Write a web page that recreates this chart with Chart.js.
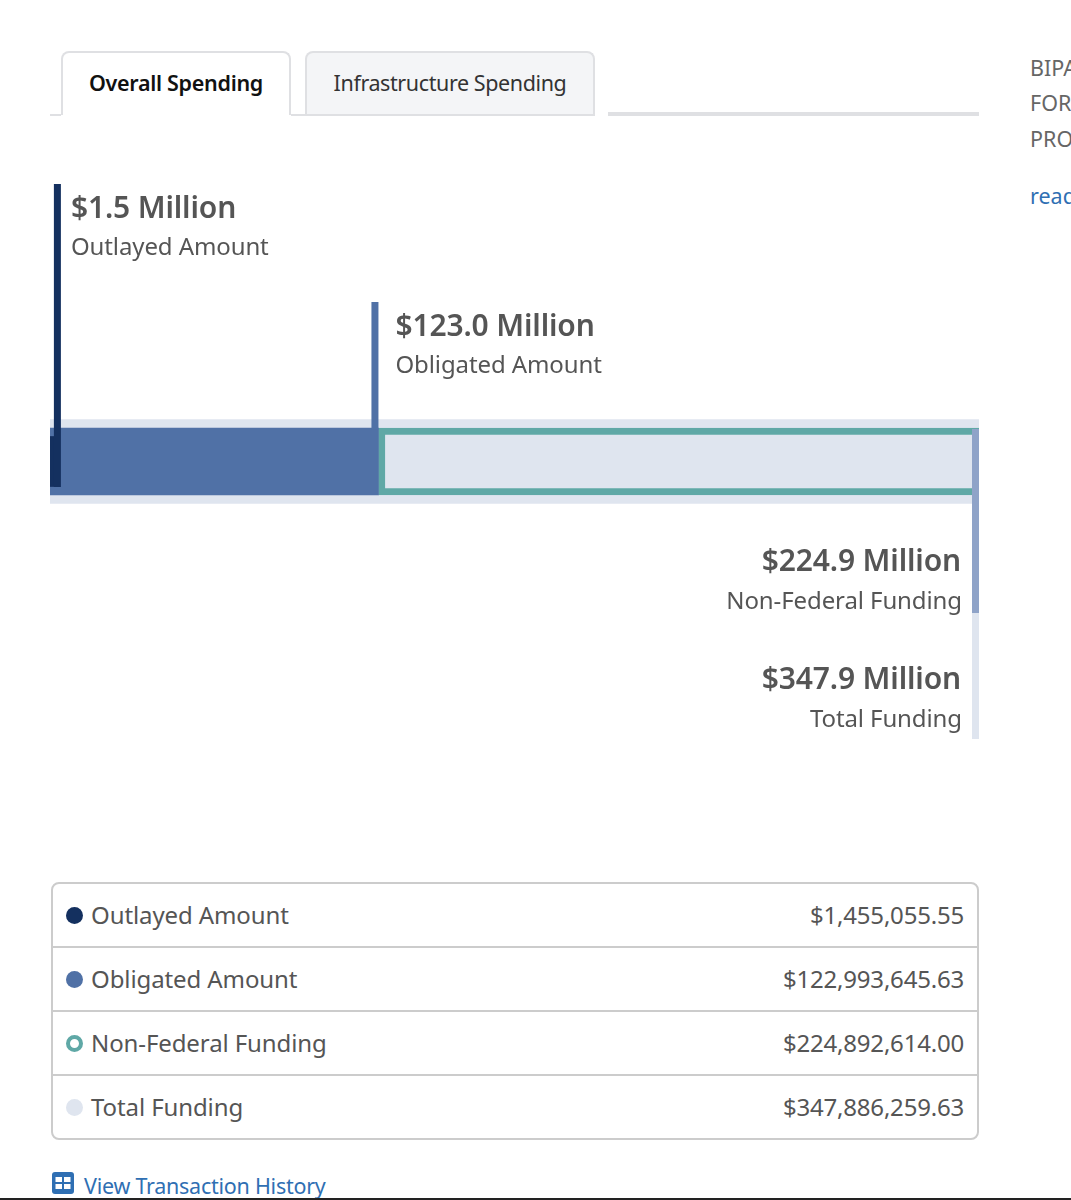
<!DOCTYPE html>
<html>
<head>
<meta charset="utf-8">
<title>Overall Spending</title>
<script src="https://cdn.jsdelivr.net/npm/chart.js@4"></script>
<style>
  html, body { margin: 0; padding: 0; background: #fff; }
  body { width: 1071px; height: 1200px; overflow: hidden; position: relative; font-family: "Noto Sans", sans-serif; color: #555; }
  .abs { position: absolute; white-space: nowrap; }
  .tab { position: absolute; top: 51px; height: 64px; box-sizing: border-box; border: 2px solid #dfe0e3; border-bottom: 0; border-radius: 8px 8px 0 0; text-align: center; line-height: 60px; font-size: 21.5px; }
  #tab1 { left: 61px; width: 230px; background: #fff; color: #111; font-weight: 600; letter-spacing: -0.3px; }
  #tab2 { left: 305px; width: 290px; background: #f4f5f7; color: #333; letter-spacing: -0.4px; }
  .rule { position: absolute; background: #dfe0e3; }
  #chartBox { position: absolute; left: 50px; top: 170px; width: 929px; height: 583px; }
  #legendTable { position: absolute; left: 51px; top: 882px; width: 928px; box-sizing: border-box; border: 2px solid #ccc; border-radius: 8px; }
  .row { height: 64px; box-sizing: border-box; border-bottom: 2px solid #ccc; position: relative; font-size: 24px; line-height: 62px; color: #555; }
  .row:last-child { border-bottom: 0; height: 62px; }
  .dot { position: absolute; left: 13px; top: 23px; width: 17px; height: 17px; border-radius: 50%; box-sizing: border-box; }
  .name { position: absolute; left: 38px; letter-spacing: -0.1px; }
  .amt { position: absolute; right: 13px; letter-spacing: -0.2px; }
  .side { left: 1030px; font-size: 21.5px; color: #666; }
</style>
</head>
<body>
  <div class="tab" id="tab1">Overall Spending</div>
  <div class="tab" id="tab2">Infrastructure Spending</div>
  <div class="rule" style="left:50px;top:114px;width:11px;height:2px"></div>
  <div class="rule" style="left:291px;top:114px;width:14px;height:2px"></div>
  <div class="rule" style="left:305px;top:114px;width:290px;height:2px"></div>
  <div class="rule" style="left:608px;top:112px;width:371px;height:4px"></div>

  <div class="abs side" style="top:53px">BIPA</div>
  <div class="abs side" style="top:88px">FOR</div>
  <div class="abs side" style="top:124px">PRO</div>
  <div class="abs side" style="top:181px;color:#2f6fb3">read</div>

  <div id="chartBox"><canvas id="spendingChart" width="929" height="583"></canvas></div>

  <div id="legendTable"></div>

  <svg class="abs" style="left:52px;top:1172px" width="22" height="22" viewBox="0 0 22 22">
    <rect width="22" height="22" rx="3" fill="#2f6fb3"/>
    <rect x="3.5" y="5" width="6.5" height="5" fill="#fff"/>
    <rect x="12" y="5" width="6.5" height="5" fill="#fff"/>
    <rect x="3.5" y="12" width="6.5" height="5" fill="#fff"/>
    <rect x="12" y="12" width="6.5" height="5" fill="#fff"/>
  </svg>
  <div class="abs" style="left:84px;top:1171px;font-size:21.5px;color:#2f6fb3;letter-spacing:-0.25px">View Transaction History</div>
  <div class="abs" style="left:0;top:1198px;width:1071px;height:2px;background:#222"></div>

<script>
// Values
const categories = ['Outlayed Amount', 'Obligated Amount', 'Non-Federal Funding', 'Total Funding'];
const amounts = [1455055.55, 122993645.63, 224892614.00, 347886259.63];
const shortLabels = ['$1.5 Million', '$123.0 Million', '$224.9 Million', '$347.9 Million'];
const exactLabels = ['$1,455,055.55', '$122,993,645.63', '$224,892,614.00', '$347,886,259.63'];

const NAVY = '#14305f';
const BLUE = '#5071a6';
const TEAL = '#5fa8a6';
const PALE = '#dfe5ef';
const SLATE = '#8fa3c8';

const obligatedTotal = amounts[1];
const fundingTotal = amounts[3];

// Legend table
const dotStyles = [
  'background:' + NAVY,
  'background:' + BLUE,
  'background:#fff;border:4px solid ' + TEAL,
  'background:' + PALE
];
const table = document.getElementById('legendTable');
categories.forEach((name, i) => {
  const row = document.createElement('div');
  row.className = 'row';
  row.innerHTML = '<span class="dot" style="' + dotStyles[i] + '"></span>' +
    '<span class="name">' + name + '</span><span class="amt">' + exactLabels[i] + '</span>';
  table.appendChild(row);
});

// Flags with their captions, hung off the x scale. Offsets are from the bar centre line.
const flags = [
  { value: amounts[0], side: 'right', top: -277.5, bottom: 25.5, color: NAVY, i: 0 },
  { value: obligatedTotal, side: 'left', top: -159.5, bottom: -32, color: BLUE, i: 1 },
  { value: fundingTotal, side: 'left', top: -32.5, bottom: 277.5, color: PALE, i: 3, captionY: 227.5 },
  { value: obligatedTotal + amounts[2], side: 'left', top: -32.5, bottom: 151.5, color: SLATE, i: 2, captionY: 109.5 }
];

const flagPlugin = {
  id: 'flags',
  afterDatasetsDraw(chart) {
    const { ctx, scales } = chart;
    const midY = (chart.chartArea.top + chart.chartArea.bottom) / 2;
    const lineW = 7;
    flags.forEach(f => {
      const x = scales.x.getPixelForValue(f.value);
      const left = f.side === 'right' ? x : x - lineW;
      ctx.fillStyle = f.color;
      ctx.fillRect(left, midY + f.top, lineW, f.bottom - f.top);

      // the two end flags carry their captions below the bar, right aligned
      const endAligned = f.captionY !== undefined;
      const textX = endAligned ? x - 18 : x + 17;
      const headY = endAligned ? midY + f.captionY : midY + f.top + 34;
      ctx.save();
      ctx.textAlign = endAligned ? 'right' : 'left';
      ctx.textBaseline = 'alphabetic';
      ctx.fillStyle = '#555';
      ctx.font = '600 30px "Noto Sans", sans-serif';
      ctx.letterSpacing = '-0.15px';
      ctx.fillText(shortLabels[f.i], textX, headY);
      ctx.font = '24px "Noto Sans", sans-serif';
      ctx.letterSpacing = '-0.1px';
      ctx.fillText(categories[f.i], endAligned ? textX + 1 : textX, headY + (endAligned ? 38 : 37));
      ctx.restore();
    });
  }
};

new Chart(document.getElementById('spendingChart'), {
  type: 'bar',
  data: {
    labels: ['Spending'],
    // first dataset paints on top
    datasets: [
      { label: categories[0], data: [amounts[0]], backgroundColor: NAVY, barThickness: 50 },
      { label: categories[1], data: [amounts[1]], backgroundColor: BLUE, barThickness: 67 },
      {
        label: categories[2],
        data: [[obligatedTotal, obligatedTotal + amounts[2]]],
        backgroundColor: PALE,
        borderColor: TEAL,
        borderWidth: 7,
        borderSkipped: false,
        barThickness: 67
      },
      { label: categories[3], data: [amounts[3]], backgroundColor: PALE, barThickness: 84 }
    ]
  },
  options: {
    indexAxis: 'y',
    responsive: false,
    animation: false,
    grouped: false,
    layout: { padding: 0 },
    plugins: {
      legend: { display: false },
      title: { display: false },
      tooltip: { enabled: false }
    },
    scales: {
      x: { display: false, min: 0, max: fundingTotal, grid: { display: false } },
      y: { display: false, grid: { display: false } }
    }
  },
  plugins: [flagPlugin]
});
</script>
</body>
</html>
